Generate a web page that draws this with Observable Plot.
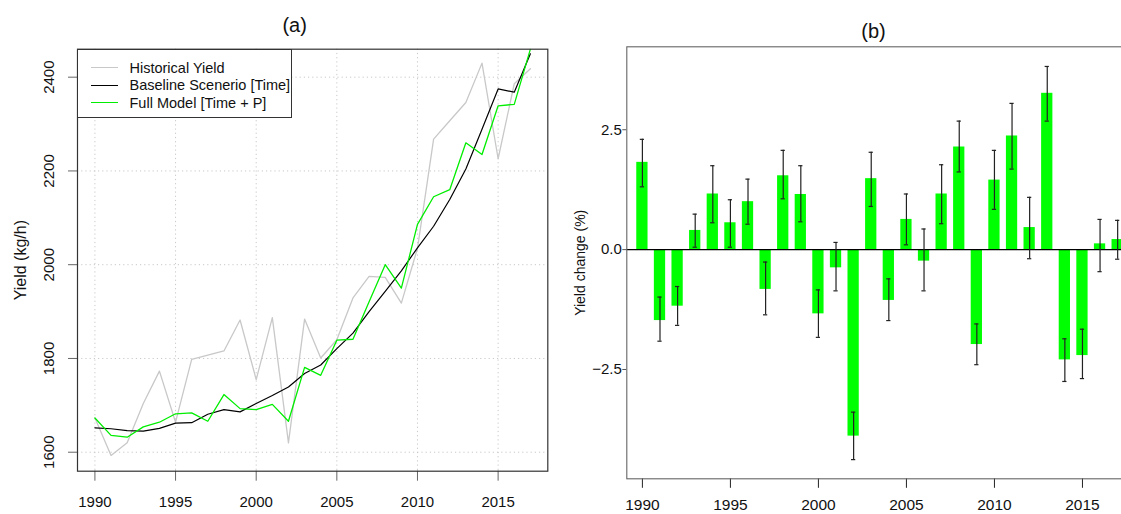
<!DOCTYPE html>
<html>
<head>
<meta charset="utf-8">
<script src="https://cdn.jsdelivr.net/npm/d3@7"></script>
<script src="https://cdn.jsdelivr.net/npm/@observablehq/plot@0.6"></script>
<style>
  html, body { margin: 0; padding: 0; background: #fff; overflow: hidden; }
  #wrap { position: relative; width: 1121px; height: 514px; overflow: hidden; font-family: "Liberation Sans", Arial, sans-serif; }
  .panel { position: absolute; top: 0; }
  .panel svg { max-width: none !important; display: block; }
  #legend { position: absolute; left: 77px; top: 48.7px; width: 215px; height: 69px; border: 1px solid #333; box-sizing: border-box; background: #fff; }
  .lrow { position: absolute; left: 0; height: 18px; width: 100%; }
  .lsw { position: absolute; left: 12.5px; top: 8.5px; width: 27px; height: 0; border-top-width: 1.3px; border-top-style: solid; }
  .ltx { position: absolute; left: 51.5px; top: 0; font-size: 14.5px; line-height: 18px; color: #111; white-space: nowrap; }
</style>
</head>
<body>
<div id="wrap">
  <div id="pa" class="panel" style="left:0px; width:560px; height:514px"></div>
  <div id="pb" class="panel" style="left:560px; width:580px; height:514px"></div>
  <div id="legend"></div>
</div>
<script>
// ---------- data ----------
const years = [1990,1991,1992,1993,1994,1995,1996,1997,1998,1999,2000,2001,2002,2003,2004,2005,2006,2007,2008,2009,2010,2011,2012,2013,2014,2015,2016,2017];
const historical = [1673,1593,1620,1704,1773,1664,1798,1807,1816,1882,1755,1887,1620,1884,1801,1840,1929,1975,1973,1918,2035,2268,2307,2346,2430,2226,2386,2418];
const baseline   = [1652,1650,1646,1645,1651,1662,1663,1681,1691,1686,1704,1721,1739,1768,1786,1821,1854,1900,1943,1987,2036,2082,2139,2204,2289,2375,2368,2450];
const fullModel  = [1673,1636,1632,1654,1664,1682,1684,1666,1723,1693,1691,1702,1666,1781,1764,1839,1841,1921,2000,1950,2086,2145,2160,2260,2235,2339,2342,2460];

const change  = [1.82,-1.48,-1.18,0.40,1.16,0.56,1.00,-0.83,1.54,1.15,-1.34,-0.38,-3.89,1.48,-1.06,0.63,-0.24,1.16,2.14,-1.98,1.45,2.37,0.46,3.26,-2.30,-2.21,0.12,0.21];
const errLow  = [1.31,-1.91,-1.58,0.05,0.56,0.05,0.53,-1.36,1.06,0.58,-1.83,-0.86,-4.38,0.90,-1.48,0.10,-0.86,0.54,1.62,-2.40,0.84,1.68,-0.19,2.68,-2.75,-2.69,-0.46,-0.20];
const errHigh = [2.30,-0.99,-0.77,0.74,1.75,1.04,1.47,-0.26,2.07,1.75,-0.84,0.15,-3.39,2.03,-0.61,1.16,0.43,1.77,2.68,-1.55,2.07,3.05,1.09,3.82,-1.86,-1.66,0.63,0.61];

const seriesNames = ["Historical Yield", "Baseline Scenerio [Time]", "Full Model [Time + P]"];
const seriesColors = ["#c8c8c8", "#000000", "#00ee00"];

const xTicksA = [1990,1995,2000,2005,2010,2015];
const yTicksA = [1600,1800,2000,2200,2400];
const xTicksB = [1990,1995,2000,2005,2010,2015];
const yTicksB = [-2.5,0,2.5];
const titles = ["(a)", "(b)"];
const yLabels = ["Yield (kg/h)", "Yield change (%)"];

// ---------- build tables ----------
const long = [];
[historical, baseline, fullModel].forEach((arr, i) => {
  arr.forEach((v, j) => long.push({series: seriesNames[i], year: years[j], value: v}));
});
const bars = years.map((y, i) => ({year: y, value: change[i], lo: errLow[i], hi: errHigh[i]}));

const font = "Liberation Sans, Arial, sans-serif";
const yearFmt = d => String(d);
const mid = {textAnchor: "middle", lineAnchor: "middle"};

// ---------- panel (a) ----------
const pa = Plot.plot({
  width: 560, height: 514,
  marginLeft: 77, marginRight: 12.7, marginTop: 48.7, marginBottom: 43.3,
  style: {fontFamily: font, fontSize: "15px", background: "transparent", color: "#111"},
  x: {domain: [1988.92, 2018.08], label: null},
  y: {domain: [1559.5, 2459.7], label: null},
  marks: [
    Plot.gridX(xTicksA, {stroke: "#c8c8c8", strokeOpacity: 1, strokeDasharray: "1.2,3"}),
    Plot.gridY(yTicksA, {stroke: "#c8c8c8", strokeOpacity: 1, strokeDasharray: "1.2,3"}),
    Plot.line(long.filter(d => d.series === seriesNames[0]), {x: "year", y: "value", stroke: seriesColors[0], strokeWidth: 1.3, clip: true}),
    Plot.line(long.filter(d => d.series === seriesNames[1]), {x: "year", y: "value", stroke: seriesColors[1], strokeWidth: 1.2, clip: true}),
    Plot.line(long.filter(d => d.series === seriesNames[2]), {x: "year", y: "value", stroke: seriesColors[2], strokeWidth: 1.3, clip: true}),
    Plot.axisX({ticks: xTicksA, tickSize: 10, tickPadding: 15.5, fontSize: 15, stroke: "#666", tickFormat: yearFmt, label: null}),
    Plot.axisY({ticks: yTicksA, tickSize: 9, tickFormat: () => "", stroke: "#666", label: null}),
    Plot.text(yTicksA, {y: d => d, text: d => String(d), frameAnchor: "left", dx: -28, rotate: -90, fontSize: 15, fill: "#111", ...mid}),
    Plot.text([yLabels[0]], {frameAnchor: "left", dx: -57, rotate: -90, fontSize: 16, fill: "#111", ...mid}),
    Plot.text([titles[0]], {frameAnchor: "top", dx: -18, dy: -23.7, fontSize: 20, fill: "#111", ...mid}),
    Plot.frame({stroke: "#333", strokeWidth: 1.2})
  ]
});
document.getElementById("pa").appendChild(pa);

// ---------- panel (b) ----------
const pb = Plot.plot({
  width: 580, height: 514,
  marginLeft: 66.3, marginRight: 7, marginTop: 46.3, marginBottom: 35.7,
  style: {fontFamily: font, fontSize: "15px", background: "transparent", color: "#111"},
  x: {domain: [1989.114, 2017.9], label: null},
  y: {domain: [-4.78, 4.23], label: null},
  marks: [
    Plot.rectY(bars, {x1: d => d.year - 0.32, x2: d => d.year + 0.32, y1: 0, y2: "value", fill: "#00ff00"}),
    Plot.ruleY([0], {stroke: "#000", strokeWidth: 1.3}),
    Plot.ruleX(bars, {x: "year", y1: "lo", y2: "hi", stroke: "#222", strokeWidth: 1.2}),
    Plot.ruleY(bars, {y: "lo", x1: d => d.year - 0.12, x2: d => d.year + 0.12, stroke: "#222", strokeWidth: 1.2}),
    Plot.ruleY(bars, {y: "hi", x1: d => d.year - 0.12, x2: d => d.year + 0.12, stroke: "#222", strokeWidth: 1.2}),
    Plot.axisX({ticks: xTicksB, tickSize: 9.5, tickPadding: 11, fontSize: 15.5, stroke: "#222", tickFormat: yearFmt, label: null}),
    Plot.axisY({ticks: yTicksB, tickSize: 4, tickPadding: 1, fontSize: 15, tickFormat: d3.format(".1f"), stroke: "#555", label: null}),
    Plot.text([yLabels[1]], {frameAnchor: "left", dx: -46.6, rotate: -90, fontSize: 14, fill: "#111", ...mid}),
    Plot.text([titles[1]], {frameAnchor: "top", dx: -6.6, dy: -15.5, fontSize: 20, fill: "#111", ...mid}),
    Plot.frame({stroke: "#666", strokeWidth: 1.1})
  ]
});
document.getElementById("pb").appendChild(pb);

// ---------- legend for panel (a) ----------
const legend = document.getElementById("legend");
const rowTops = [9.3, 26.6, 44.3];
seriesNames.forEach((name, i) => {
  const row = document.createElement("div");
  row.className = "lrow";
  row.style.top = rowTops[i] + "px";
  const sw = document.createElement("div");
  sw.className = "lsw";
  sw.style.borderTopColor = seriesColors[i];
  const tx = document.createElement("div");
  tx.className = "ltx";
  tx.textContent = name;
  row.appendChild(sw);
  row.appendChild(tx);
  legend.appendChild(row);
});
</script>
</body>
</html>
